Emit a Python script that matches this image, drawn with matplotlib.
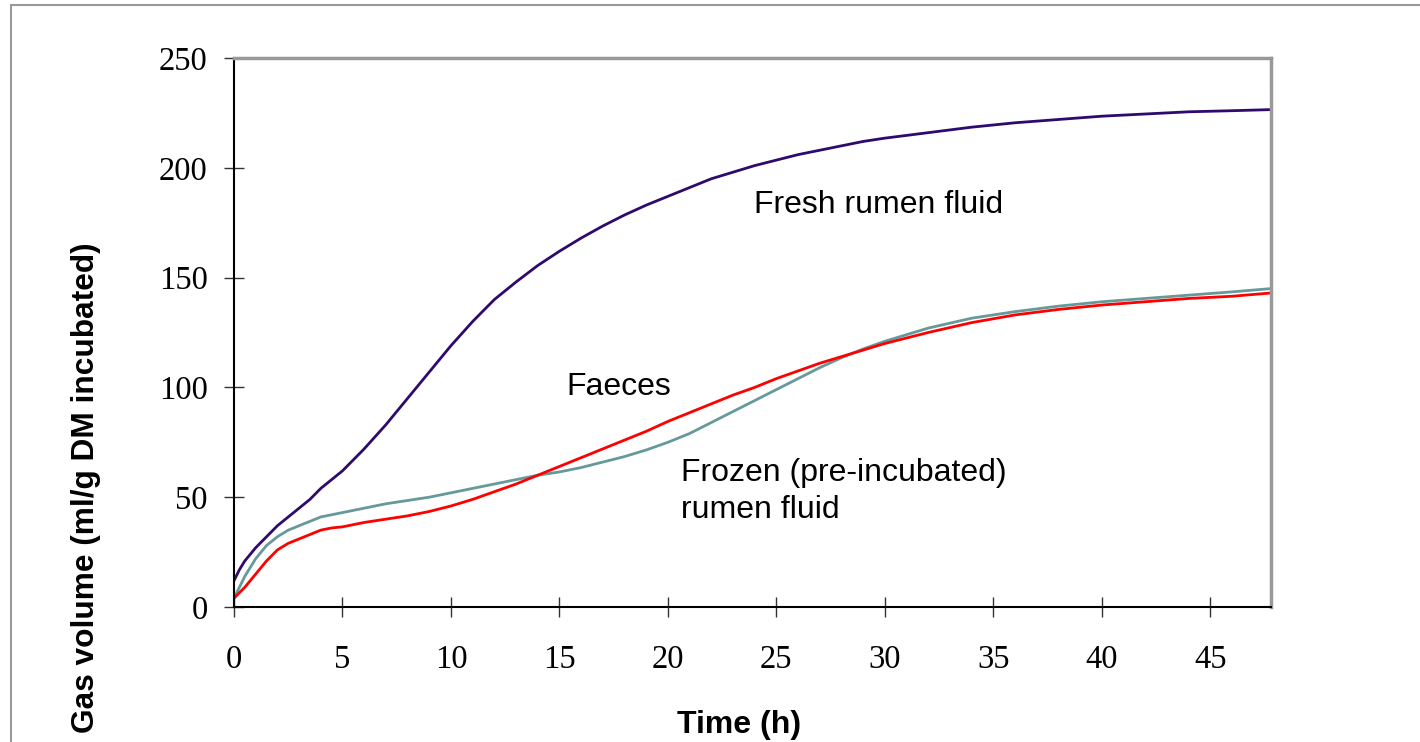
import matplotlib.pyplot as plt
from matplotlib.patches import Rectangle

# Time points (h) and gas volume readings (ml/g DM incubated)
time_h = [0, 0.25, 0.5, 1, 1.5, 2, 2.5, 3, 3.5, 4, 4.5, 5, 6, 7, 8, 9, 10, 11, 12, 13, 14, 15,
          16, 17, 18, 19, 20, 21, 22, 23, 24, 25, 26, 27, 28, 29, 30, 32, 34, 36, 38, 40,
          42, 44, 46, 47.8]

fresh = [12, 17, 21, 27, 32, 37, 41, 45, 49, 54, 58, 62, 72, 83, 95, 107, 119, 130, 140, 148, 155.5,
         162, 168, 173.5, 178.5, 183, 187, 191, 195, 198, 201, 203.5, 206, 208, 210, 212, 213.5, 216, 218.5,
         220.5, 222, 223.5, 224.5, 225.5, 226, 226.5]

faeces = [4, 6.5, 9, 15, 21, 26, 29, 31, 33, 35, 36, 36.5, 38.5, 40, 41.5, 43.5, 46, 49, 52.5, 56, 60,
          64, 68, 72, 76, 80, 84.5, 88.5, 92.5, 96.5, 100, 104, 107.5, 111, 114, 117, 120, 125, 129.5,
          133, 135.5, 137.5, 139, 140.5, 141.5, 143]

frozen = [4, 9, 14, 22, 28, 32, 35, 37, 39, 41, 42, 43, 45, 47, 48.5, 50, 52, 54, 56, 58, 60,
          61.5, 63.5, 66, 68.5, 71.5, 75, 79, 84, 89, 94, 99, 104, 109, 113.5, 117.5, 121, 127, 131.5,
          134.5, 137, 139, 140.5, 142, 143.5, 145]

fig = plt.figure(figsize=(14.2, 7.42), dpi=100)
fig.patch.set_facecolor('white')

# outer grey frame (only left and top edges fall inside the picture)
fig.patches.append(Rectangle((11 / 1420, -0.1), 1.2, 0.1 + (742 - 5) / 742, transform=fig.transFigure,
                             fill=False, edgecolor='#999999', linewidth=1.5, zorder=0))

ax = fig.add_axes([234 / 1420, 1 - 607 / 742, (1271 - 234) / 1420, (607 - 58) / 742])

ax.plot(time_h, fresh, color='#2e0a6e', linewidth=2)
ax.plot(time_h, frozen, color='#669999', linewidth=2)
ax.plot(time_h, faeces, color='#ff0000', linewidth=2)

ax.set_xlim(0, 47.8)
ax.set_ylim(0, 250)
ax.set_xticks(range(0, 50, 5))
ax.set_yticks(range(0, 300, 50))

ax.spines['left'].set_color('black')
ax.spines['bottom'].set_color('black')
ax.spines['top'].set_color('#999999')
ax.spines['right'].set_color('#999999')
for s in ax.spines.values():
    s.set_linewidth(1.5)
ax.spines['top'].set_linewidth(2.5)
ax.spines['right'].set_linewidth(2.5)

ax.tick_params(axis='both', direction='inout', length=14, width=1, color='#333333',
               labelsize=23.5)
ax.tick_params(axis='y', pad=12)
ax.tick_params(axis='x', pad=20)
for lab in ax.get_xticklabels() + ax.get_yticklabels():
    lab.set_fontfamily('Liberation Serif')

ax.text(23.95, 183, 'Fresh rumen fluid', fontsize=23, family='Liberation Sans', va='center')
ax.text(15.3, 100, 'Faeces', fontsize=23, family='Liberation Sans', va='center')
ax.text(20.6, 52.5, 'Frozen (pre-incubated)\nrumen fluid', fontsize=23, family='Liberation Sans',
        va='center', linespacing=1.32)

fig.text(739 / 1420, 1 - 725 / 742, 'Time (h)', fontsize=23, fontweight='bold',
         family='Liberation Sans', ha='center', va='center')
fig.text(86 / 1420, 1 - 488 / 742, 'Gas volume (ml/g DM incubated)', fontsize=22.8, fontweight='bold',
         family='Liberation Sans', ha='center', va='center', rotation=90)

plt.savefig('out.png', dpi=100)
plt.close(fig)
